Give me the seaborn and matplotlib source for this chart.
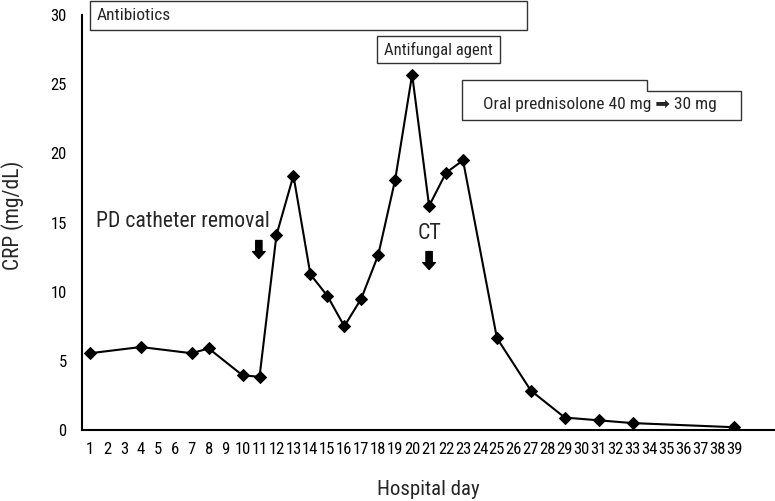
import matplotlib
matplotlib.use('Agg')
import matplotlib.pyplot as plt
import seaborn as sns
import pandas as pd
from matplotlib.patches import Rectangle, Polygon

# CRP values
days = [1, 4, 7, 8, 10, 11, 12, 13, 14, 15, 16, 17, 18, 19, 20, 21, 22, 23, 25, 27, 29, 31, 33, 39]
crp = [5.55, 6.0, 5.55, 5.9, 3.95, 3.85, 14.1, 18.4, 11.25, 9.7, 7.5, 9.5, 12.65, 18.1, 25.7, 16.2, 18.6, 19.5,
       6.65, 2.85, 0.9, 0.7, 0.5, 0.2]
xtick_days = list(range(1, 40))
ytick_vals = [0, 5, 10, 15, 20, 25, 30]

sns.set_style('white')
fam = ['Roboto Condensed', 'Roboto', 'DejaVu Sans']
plt.rcParams['font.family'] = fam

df = pd.DataFrame({'day': days, 'crp': crp})

fig = plt.figure(figsize=(7.75, 5.01), dpi=100)
ax = fig.add_axes([82 / 775, 71 / 501, 1 - 82 / 775, 430 / 501])
sns.lineplot(data=df, x='day', y='crp', ax=ax, color='black', linewidth=1.5,
             marker='D', markersize=6, markeredgecolor='black')

ax.set_xlim(0.53, 41.4)
ax.set_ylim(0, 31.09)
ax.spines['top'].set_visible(False)
ax.spines['right'].set_visible(False)
ax.spines['left'].set_bounds(0, 30)
for s in ['left', 'bottom']:
    ax.spines[s].set_linewidth(1.5)
    ax.spines[s].set_color('black')

ax.set_xticks(xtick_days)
ax.set_xticklabels([str(d) for d in xtick_days])
ax.set_yticks(ytick_vals)
ax.tick_params(axis='x', direction='in', length=10, width=1, colors='#555555', labelcolor='black',
               labelsize=12, pad=9)
ax.tick_params(axis='y', direction='in', length=10, width=1, colors='#555555', labelcolor='black',
               labelsize=12, pad=11)

ax.set_xlabel('Hospital day', fontsize=15, labelpad=16)
ax.set_ylabel('CRP (mg/dL)', fontsize=15.5, labelpad=19)

# treatment boxes
ax.add_patch(Rectangle((1.0, 28.9), 25.8, 2.1, fill=False, edgecolor='#333333', linewidth=1, clip_on=False))
ax.text(1.41, 29.95, 'Antibiotics', fontsize=12.5, va='center', ha='left')

ax.add_patch(Rectangle((17.9, 26.5), 7.3, 2.0, fill=False, edgecolor='#333333', linewidth=1))
ax.text(21.55, 27.5, 'Antifungal agent', fontsize=12, va='center', ha='center')

ax.add_patch(Polygon([(22.92, 25.31), (33.88, 25.31), (33.88, 24.51), (39.42, 24.51),
                      (39.42, 22.42), (22.92, 22.42)], closed=True, fill=False,
                     edgecolor='#333333', linewidth=1))
ax.text(31.1, 23.5, 'Oral prednisolone 40 mg \u27a1 30 mg', fontsize=12.5, va='center', ha='center')

# events
ax.text(1.35, 15.05, 'PD catheter removal', fontsize=15.7, va='center', ha='left')
ax.text(21.0, 14.2, 'CT', fontsize=15.7, va='center', ha='center')
for x, ytop in [(10.96, 13.7), (21.0, 12.9)]:
    ax.annotate('', xy=(x, ytop - 1.3), xytext=(x, ytop),
                arrowprops=dict(arrowstyle='simple,head_length=0.5,head_width=0.9,tail_width=0.45',
                                color='black', shrinkA=0, shrinkB=0))

fig.savefig('out.png', dpi=100)
